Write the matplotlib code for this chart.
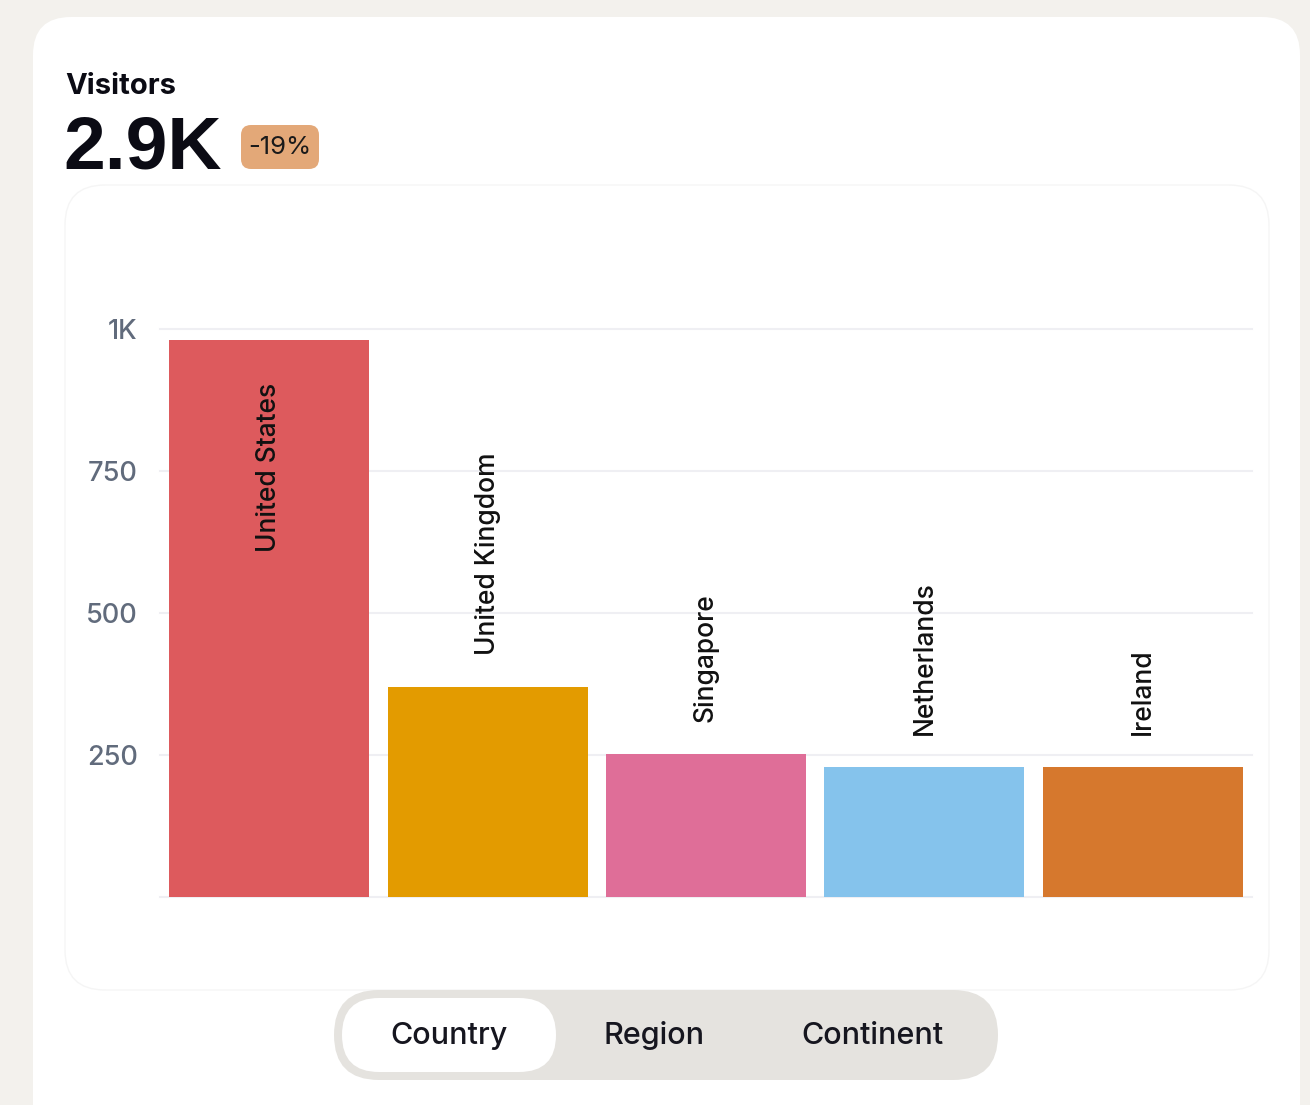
import matplotlib.pyplot as plt
from matplotlib.patches import FancyBboxPatch

# data
countries = ['United States', 'United Kingdom', 'Singapore', 'Netherlands', 'Ireland']
visitors = [980, 370, 252, 229, 228]
colors = ['#dd5a5d', '#e39b00', '#df6e98', '#85c3ec', '#d6782d']
yticks = [250, 500, 750, 1000]
ytick_labels = ['250', '500', '750', '1K']
toggle_labels = ['Country', 'Region', 'Continent']

W, H = 1310, 1105
plt.rcParams['font.family'] = ['Inter', 'DejaVu Sans']
fig = plt.figure(figsize=(W / 100, H / 100), dpi=100)
fig.patch.set_facecolor('#f3f1ed')

# background layer in pixel coordinates
bg = fig.add_axes([0, 0, 1, 1], zorder=0)
bg.set_xlim(0, W)
bg.set_ylim(H, 0)
bg.axis('off')

bg.add_patch(FancyBboxPatch((33, 17), 1267, 1200, boxstyle='round,pad=0,rounding_size=38',
                            fc='white', ec='none'))
bg.add_patch(FancyBboxPatch((65, 185), 1204, 805, boxstyle='round,pad=0,rounding_size=40',
                            fc='white', ec='#f5f5f5', lw=1))

bg.text(65, 87, 'Visitors', fontsize=21, fontweight='bold', color='#0b0b14', va='center')
bg.text(63, 149, '2.9K', fontsize=54, fontweight='bold', color='#0b0b14', va='center',
        family='Liberation Sans')
bg.add_patch(FancyBboxPatch((241, 125), 78, 44, boxstyle='round,pad=0,rounding_size=10',
                            fc='#e3a878', ec='none'))
bg.text(280, 148, '-19%', fontsize=18.5, color='#1a1a1a', ha='center', va='center')

# segmented toggle
bg.add_patch(FancyBboxPatch((334, 990), 664, 90, boxstyle='round,pad=0,rounding_size=45',
                            fc='#e5e3df', ec='none'))
bg.add_patch(FancyBboxPatch((342, 998), 214, 74, boxstyle='round,pad=0,rounding_size=37',
                            fc='white', ec='none'))
for lbl, xc in zip(toggle_labels, [449, 654, 872]):
    bg.text(xc, 1036, lbl, fontsize=22, fontweight='medium', color='#16161f',
            ha='center', va='center')

# bar chart
ax = fig.add_axes([160 / W, (H - 897) / H, 1092 / W, 568 / H], zorder=1)
ax.patch.set_alpha(0)
x = range(len(countries))
bars = ax.bar(x, visitors, width=0.915, color=colors, zorder=2)
ax.set_xlim(-0.5, 4.5)
ax.set_ylim(0, 1000)
for y in [0] + yticks:
    ax.axhline(y, color='#efeff3', lw=1.5, zorder=1, clip_on=False)
ax.set_yticks(yticks)
ax.set_yticklabels(ytick_labels, fontsize=19.5, fontweight='medium', color='#616b7c')
ax.tick_params(axis='y', length=0, pad=16)
ax.set_xticks([])
for s in ax.spines.values():
    s.set_visible(False)

for i, v in enumerate(visitors):
    if v > 700:
        ax.annotate(countries[i], (i, v), xytext=(0, -42), textcoords='offset pixels',
                    rotation=90, ha='center', va='top', fontsize=19, fontweight='medium',
                    color='#111111')
    else:
        ax.annotate(countries[i], (i, v), xytext=(0, 32), textcoords='offset pixels',
                    rotation=90, ha='center', va='bottom', fontsize=19, fontweight='medium',
                    color='#111111')

fig.savefig('out.png', dpi=100)
